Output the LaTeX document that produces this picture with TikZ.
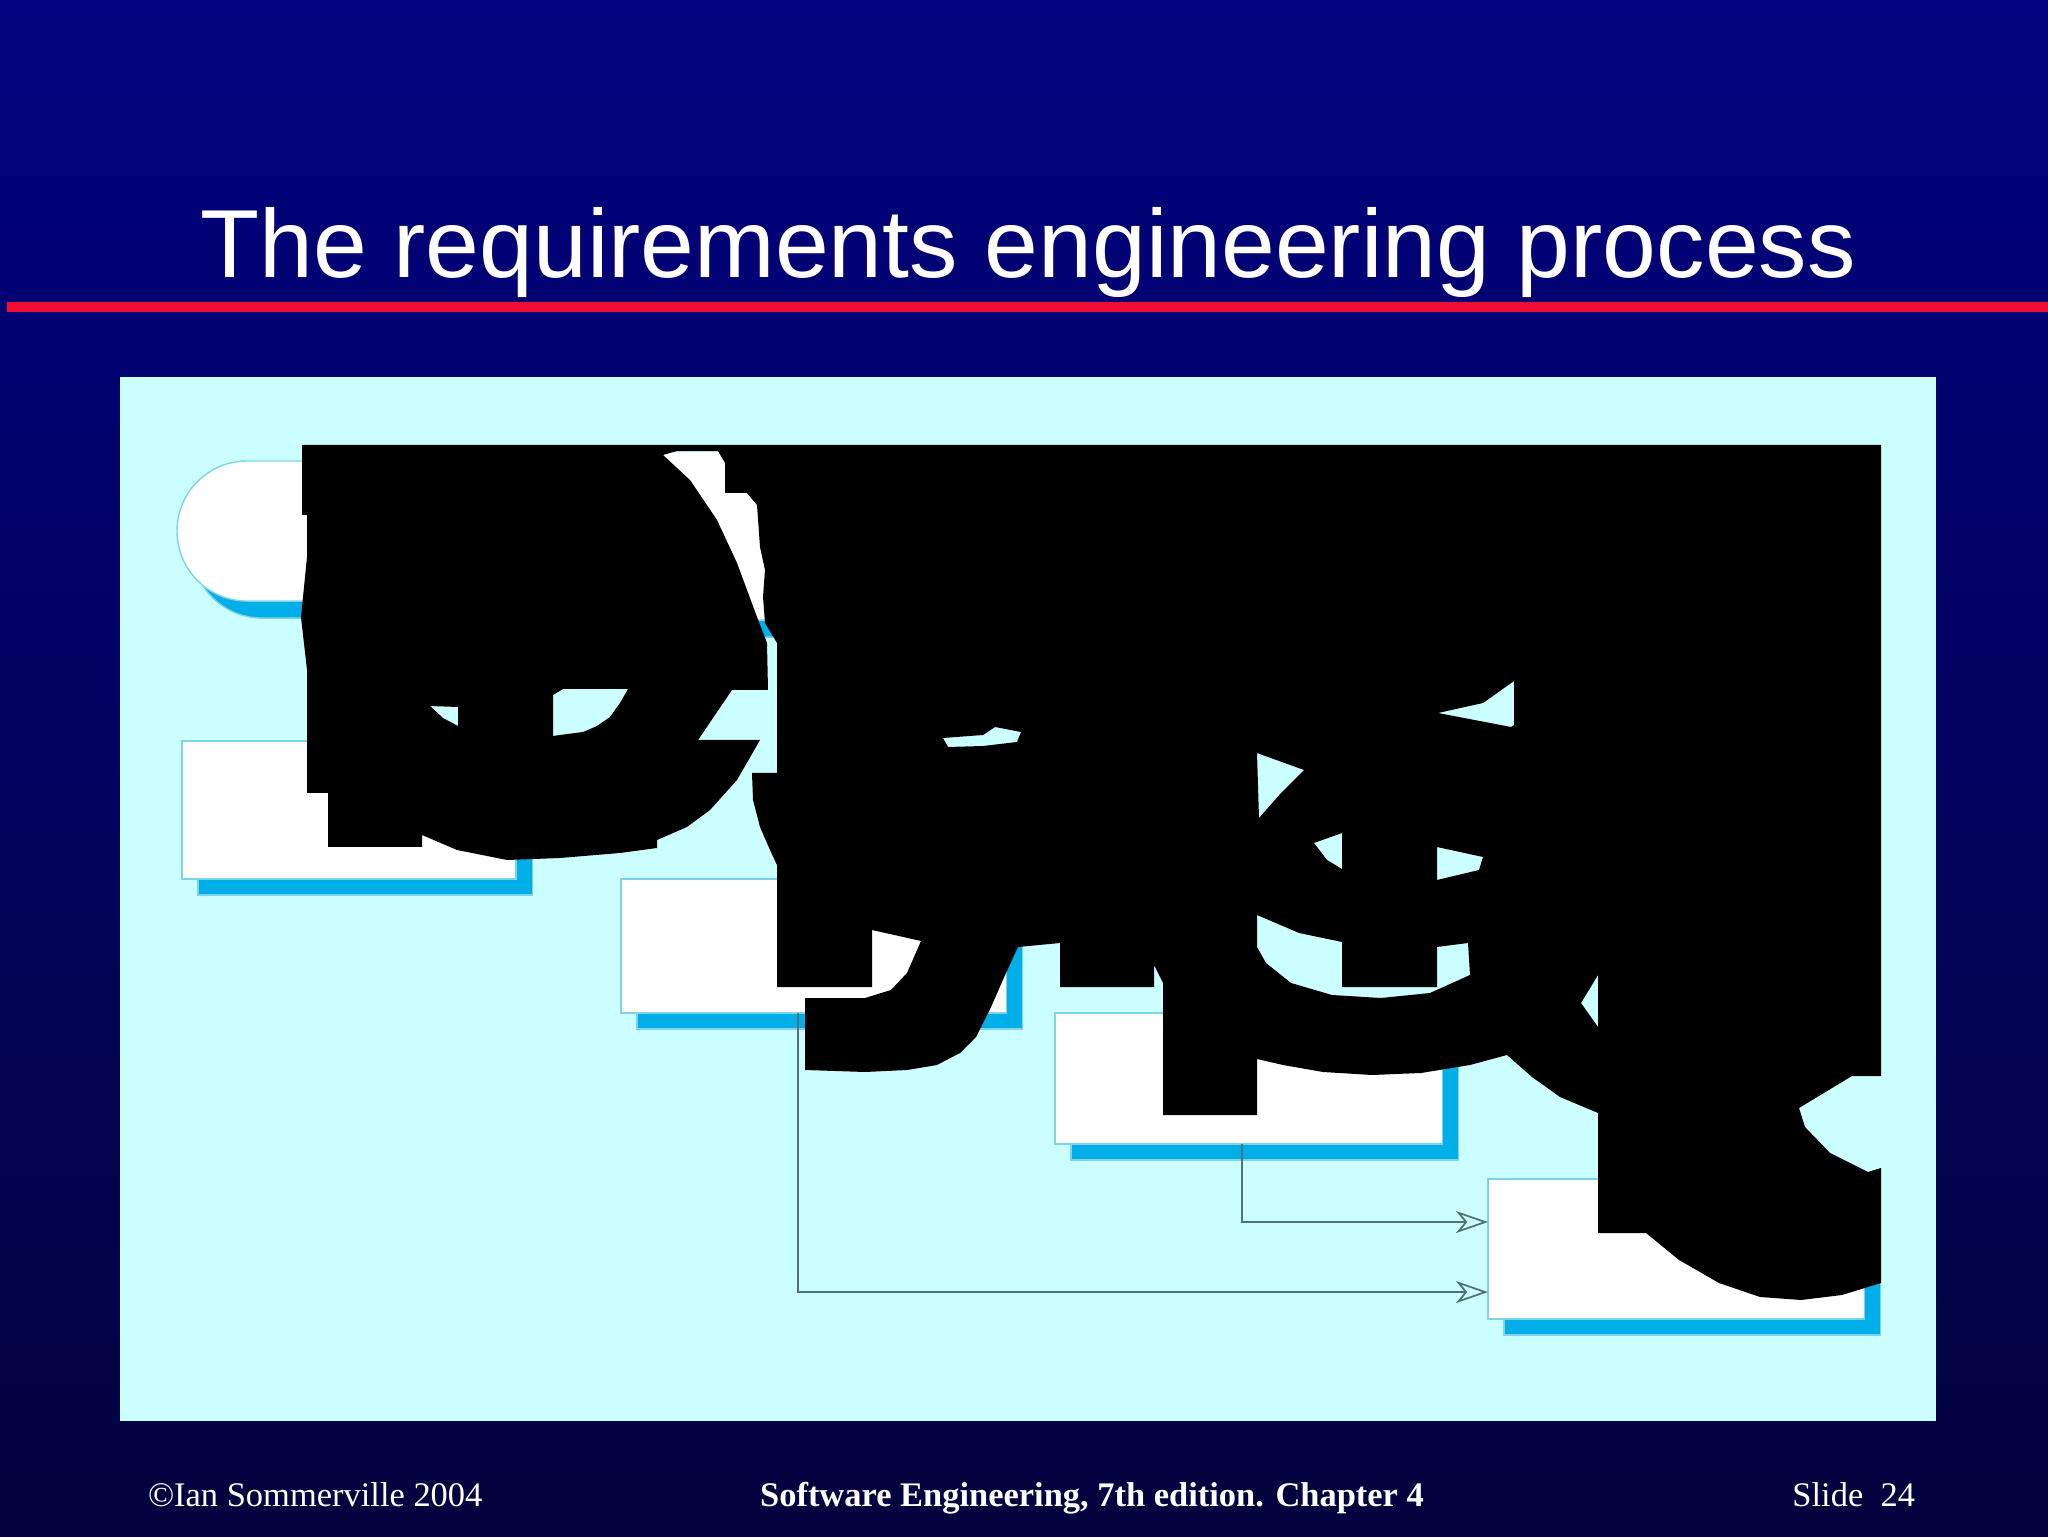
\documentclass[tikz,border=0pt]{standalone}
\usepackage{fontspec}
\setmainfont{Liberation Serif}
\newfontfamily\titlefont{Liberation Sans}
\usepackage{tikz}
\usetikzlibrary{arrows.meta,positioning,calc,shadows}

\definecolor{slidetop}{RGB}{2,2,128}
\definecolor{slidemid}{RGB}{2,2,108}
\definecolor{slidebot}{RGB}{3,3,62}
\definecolor{rulered}{RGB}{240,12,52}
\definecolor{panelcyan}{RGB}{204,255,255}
\definecolor{shadeblue}{RGB}{0,174,232}
\definecolor{edgeblue}{RGB}{125,212,232}
\definecolor{linkgrey}{RGB}{80,112,128}

\begin{document}
\begin{tikzpicture}[x=0.01cm, y=-0.01cm,
    every node/.style={inner sep=0pt, outer sep=0pt},
    docbox/.style={draw=edgeblue, line width=0.4pt, fill=white, anchor=north west,
        drop shadow={shadow xshift=0.16cm, shadow yshift=-0.16cm, fill=shadeblue, draw=edgeblue, opacity=1}},
    procbox/.style={draw=edgeblue, line width=0.4pt, fill=white, anchor=north west,
        drop shadow={shadow xshift=0.15cm, shadow yshift=-0.17cm, fill=shadeblue, draw=edgeblue, opacity=1}},
    link/.style={draw=linkgrey, line width=0.5pt,
        -{Stealth[open, length=0.32cm, width=0.22cm, inset=0.09cm]}}]
    \useasboundingbox (0,0) rectangle (2048,1537);

    % Slide background
    \shade[top color=slidetop, middle color=slidemid, bottom color=slidebot] (0,0) rectangle (2048,1537);
    \node[anchor=base, text=white, font=\titlefont\fontsize{27.5}{30}\selectfont] (title) at (1028,278)
        {The requirements engineering process};
    \fill[rulered] (7,302) rectangle (2048,312);
    \fill[panelcyan] (120,377) rectangle (1936,1421);

    % Processes
    \node[procbox, rounded corners=0.7cm, minimum width=3.83cm, minimum height=1.40cm] (feas) at (177,461) {};
    \node[procbox, rounded corners=0.8cm, minimum width=4.20cm, minimum height=1.69cm] (elic) at (590,451) {};

    % Documents
    \node[docbox, minimum width=3.34cm, minimum height=1.38cm] (frep) at (182,741) {};
    \node[docbox, minimum width=3.85cm, minimum height=1.34cm] (sysmod) at (621,879) {};
    \node[docbox, minimum width=3.87cm, minimum height=1.31cm] (usreq) at (1055,1013) {};
    \node[docbox, minimum width=3.76cm, minimum height=1.40cm] (reqdoc) at (1488,1179) {};

    % Links
    \draw[link] ([xshift=1.77cm]sysmod.south west) |- ([yshift=-1.13cm]reqdoc.north west);
    \draw[link] ([xshift=1.87cm]usreq.south west) |- ([yshift=-0.43cm]reqdoc.north west);

    % Overprinted glyphs
    \fill[black, even odd rule]
        (302,445) -- (1881,445) -- (1881,1076) -- (1852,1076) -- (1799,1108) -- (1805,1127)
        -- (1830,1153) -- (1868,1172) -- (1881,1168) -- (1881,1283) -- (1842,1295) -- (1801,1300)
        -- (1760,1297) -- (1719,1283) -- (1679,1260) -- (1646,1233) -- (1598,1233) -- (1598,1113)
        -- (1560,1097) -- (1532,1077) -- (1507,1055) -- (1470,1065) -- (1421,1073) -- (1372,1075)
        -- (1323,1072) -- (1283,1065) -- (1257,1059) -- (1257,1115) -- (1163,1115) -- (1163,983)
        -- (1154,965) -- (1154,987) -- (1060,987) -- (1060,943) -- (1018,947) -- (1006,973)
        -- (991,1007) -- (976,1037) -- (960,1053) -- (937,1065) -- (907,1070) -- (865,1072)
        -- (805,1070) -- (805,998) -- (865,998) -- (891,990) -- (907,973) -- (921,941)
        -- (872,930) -- (872,987) -- (777,987) -- (777,865) -- (770,850) -- (760,827)
        -- (753,800) -- (752,773) -- (777,773) -- (777,643) -- (765,623) -- (763,597)
        -- (765,570) -- (760,547) -- (757,505) -- (747,493) -- (725,493) -- (725,463)
        -- (718,451) -- (677,451) -- (663,455) -- (690,480) -- (717,520) -- (737,563)
        -- (757,617) -- (767,643) -- (768,690) -- (732,690) -- (698,740) -- (760,740)
        -- (737,780) -- (710,810) -- (687,827) -- (657,840) -- (657,848) -- (620,853)
        -- (560,858) -- (507,860) -- (457,850) -- (422,835) -- (422,847) -- (328,847)
        -- (328,793) -- (307,793) -- (307,670) -- (301,617) -- (307,557) -- (307,515)
        -- (302,515) -- cycle
        (430,706) -- (443,718) -- (458,726) -- (458,707) -- cycle
        (553,695) -- (563,689) -- (628,689) -- (620,703) -- (610,717) -- (597,726)
        -- (583,732) -- (560,735) -- (553,736) -- cycle
        (943,738) -- (983,735) -- (995,727) -- (1021,732) -- (1017,742) -- (983,746)
        -- (948,747) -- cycle
        (1438,713) -- (1483,703) -- (1514,681) -- (1514,725) -- (1511,727) -- cycle
        (1257,753) -- (1304,770) -- (1281,793) -- (1259,818) -- cycle
        (1314,843) -- (1342,833) -- (1342,869) -- (1327,860) -- cycle
        (1437,847) -- (1483,857) -- (1479,870) -- (1437,880) -- cycle
        (1257,915) -- (1299,933) -- (1342,942) -- (1342,987) -- (1437,987) -- (1437,947)
        -- (1468,943) -- (1470,975) -- (1430,993) -- (1381,998) -- (1332,995) -- (1291,983)
        -- (1266,963) -- (1257,947) -- cycle
        (1598,975) -- (1581,1003) -- (1598,1027) -- cycle;

    % Footer
    \node[anchor=base west, text=white, font=\fontsize{9.8}{12}\selectfont] (owner) at (148,1506)
        {©Ian Sommerville 2004};
    \node[anchor=base, text=white, font=\fontsize{9.8}{12}\selectfont\bfseries] (book) at (1092,1506)
        {Software Engineering, 7th edition. Chapter 4};
    \node[anchor=base east, text=white, font=\fontsize{9.8}{12}\selectfont] (slideno) at (1915,1506)
        {Slide~~24};
\end{tikzpicture}
\end{document}
